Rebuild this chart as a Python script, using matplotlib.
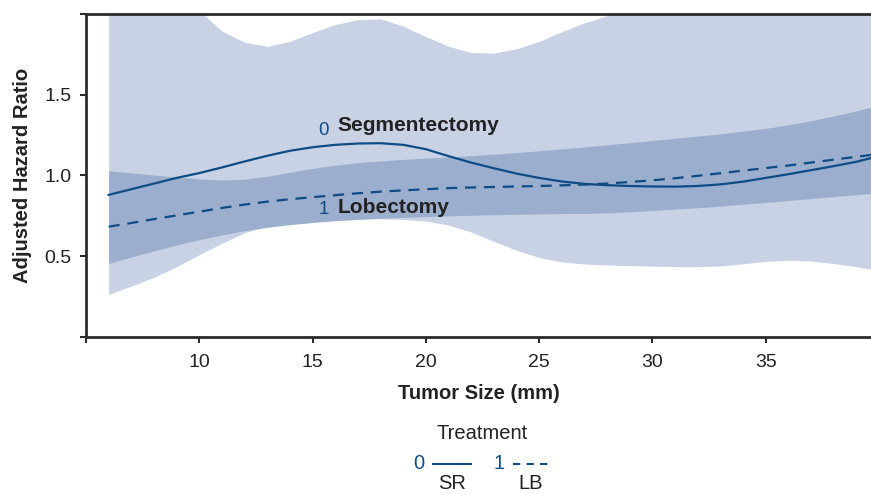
import matplotlib
matplotlib.use("Agg")
import matplotlib.pyplot as plt
from matplotlib.lines import Line2D

plt.rcParams['font.family'] = ['Liberation Sans', 'DejaVu Sans']

# Tumor size grid (mm)
tumor_size = [6, 7, 8, 9, 10, 11, 12, 13, 14, 15, 16, 17, 18, 19, 20, 21, 22, 23,
              24, 25, 26, 27, 28, 29, 30, 31, 32, 33, 34, 35, 36, 37, 38, 39, 40]

# Segmentectomy (treatment 0, SR) adjusted hazard ratio
hr_sr = [0.880, 0.915, 0.950, 0.985, 1.015, 1.050, 1.087, 1.122, 1.153, 1.175, 1.190,
         1.198, 1.200, 1.190, 1.163, 1.120, 1.080, 1.045, 1.012, 0.985, 0.963, 0.948,
         0.940, 0.935, 0.932, 0.931, 0.935, 0.945, 0.962, 0.985, 1.008, 1.033, 1.058,
         1.085, 1.120]

# Lobectomy (treatment 1, LB) adjusted hazard ratio
hr_lb = [0.683, 0.706, 0.730, 0.753, 0.776, 0.799, 0.820, 0.838, 0.853, 0.866, 0.878,
         0.890, 0.900, 0.908, 0.915, 0.922, 0.926, 0.929, 0.932, 0.935, 0.939, 0.944,
         0.950, 0.960, 0.970, 0.983, 0.998, 1.014, 1.030, 1.046, 1.062, 1.080, 1.098,
         1.116, 1.133]

# Wide confidence band (light)
wide_upper = [2.50, 2.40, 2.28, 2.15, 2.02, 1.895, 1.825, 1.80, 1.83, 1.885, 1.935,
              1.965, 1.97, 1.925, 1.86, 1.80, 1.762, 1.758, 1.785, 1.83, 1.89, 1.945,
              1.99, 2.04, 2.08, 2.12, 2.15, 2.18, 2.20, 2.22, 2.24, 2.26, 2.28, 2.30, 2.32]
wide_lower = [0.264, 0.315, 0.370, 0.435, 0.510, 0.580, 0.645, 0.688, 0.708, 0.720,
              0.728, 0.732, 0.732, 0.728, 0.718, 0.693, 0.650, 0.592, 0.537, 0.492,
              0.465, 0.452, 0.446, 0.442, 0.439, 0.436, 0.436, 0.440, 0.453, 0.468,
              0.476, 0.470, 0.455, 0.435, 0.410]

# Narrow confidence band (dark)
narrow_upper = [1.030, 1.016, 1.003, 0.990, 0.979, 0.972, 0.977, 0.995, 1.020, 1.044,
                1.064, 1.079, 1.090, 1.100, 1.107, 1.115, 1.123, 1.132, 1.142, 1.153,
                1.165, 1.177, 1.190, 1.203, 1.217, 1.230, 1.244, 1.258, 1.274, 1.292,
                1.314, 1.340, 1.368, 1.400, 1.435]
narrow_lower = [0.456, 0.495, 0.533, 0.570, 0.603, 0.632, 0.658, 0.679, 0.696, 0.709,
                0.720, 0.728, 0.735, 0.740, 0.745, 0.750, 0.754, 0.757, 0.760, 0.762,
                0.764, 0.765, 0.768, 0.775, 0.783, 0.792, 0.800, 0.810, 0.822, 0.833,
                0.845, 0.857, 0.869, 0.881, 0.894]

x_ticks = [5, 10, 15, 20, 25, 30, 35]
x_tick_labels = ['', '10', '15', '20', '25', '30', '35']
y_ticks = [0.0, 0.5, 1.0, 1.5, 2.0]
y_tick_labels = ['', '0.5', '1.0', '1.5', '']

LINE = '#0d4c86'
LIGHT = '#c9d2e4'
DARK = '#9caecd'
SPINE = '#2b2b2b'

fig = plt.figure(figsize=(8.71, 4.94), dpi=100)
ax = fig.add_axes([86 / 871, (494 - 337) / 494, (871 - 86) / 871, (337 - 14) / 494])

ax.fill_between(tumor_size, wide_lower, wide_upper, color=LIGHT, lw=0, zorder=1)
ax.fill_between(tumor_size, narrow_lower, narrow_upper, color=DARK, lw=0, zorder=2)
ax.plot(tumor_size, hr_sr, color=LINE, lw=1.6, zorder=3)
ax.plot(tumor_size, hr_lb, color=LINE, lw=1.6, ls=(0, (5, 3.5)), zorder=3)

ax.set_xlim(5, 5 + (871 - 85.5) / 22.67)
ax.set_ylim(0, 2)
ax.set_xticks(x_ticks)
ax.set_xticklabels(x_tick_labels)
ax.set_yticks(y_ticks)
ax.set_yticklabels(y_tick_labels)

for s in ['left', 'bottom', 'top']:
    ax.spines[s].set_color(SPINE)
    ax.spines[s].set_linewidth(2.0)
ax.spines['right'].set_visible(False)
ax.tick_params(axis='both', direction='out', length=4.5, width=1.5, color=SPINE,
               labelsize=14, labelcolor='#222222')
ax.tick_params(axis='y', pad=6)
ax.tick_params(axis='x', pad=8)

ax.set_xlabel('Tumor Size (mm)', fontsize=14.5, fontweight='bold', color='#222222', labelpad=9)
ax.set_ylabel('Adjusted Hazard Ratio', fontsize=14.5, fontweight='bold', color='#222222', labelpad=9)

# Curve labels
ax.text(15.5, 1.28, '0', color=LINE, fontsize=13.5, ha='center', va='center', zorder=4)
ax.text(16.1, 1.31, 'Segmentectomy', color='#222222', fontsize=15, fontweight='bold',
        ha='left', va='center', zorder=4)
ax.text(15.5, 0.787, '1', color=LINE, fontsize=13.5, ha='center', va='center', zorder=4)
ax.text(16.1, 0.80, 'Lobectomy', color='#222222', fontsize=15, fontweight='bold',
        ha='left', va='center', zorder=4)

# Custom legend below
W, H = 871, 494
def fx(px):
    return px / W
def fy(py):
    return (H - py) / H

fig.text(fx(482), fy(433), 'Treatment', fontsize=14.5, color='#222222', ha='center', va='center')
fig.text(fx(419), fy(463), '0', fontsize=14.5, color=LINE, ha='center', va='center')
fig.add_artist(Line2D([fx(433), fx(471)], [fy(464), fy(464)], color=LINE, lw=1.5))
fig.text(fx(499), fy(463), '1', fontsize=14.5, color=LINE, ha='center', va='center')
fig.add_artist(Line2D([fx(513), fx(549)], [fy(464), fy(464)], color=LINE, lw=1.5,
                      ls=(0, (3.5, 3))))
fig.text(fx(452), fy(483), 'SR', fontsize=14.5, color='#222222', ha='center', va='center')
fig.text(fx(531), fy(483), 'LB', fontsize=14.5, color='#222222', ha='center', va='center')

fig.savefig('out.png', dpi=100)
